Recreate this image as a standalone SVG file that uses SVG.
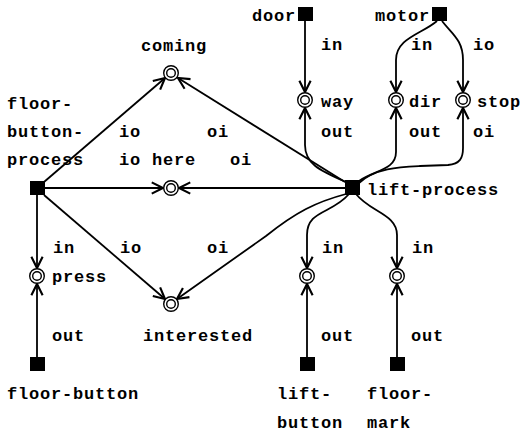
<svg xmlns="http://www.w3.org/2000/svg" width="520" height="432" viewBox="0 0 520 432">
<defs>
<marker id="arr" markerUnits="userSpaceOnUse" markerWidth="20" markerHeight="20" viewBox="-12 -8 14 16" refX="0" refY="0" orient="auto">
<path d="M-9,-4.5 L0,0 L-9,4.5" fill="none" stroke="#000" stroke-width="1.7"/>
</marker>
</defs>
<style>
.t{font-family:"Liberation Mono","DejaVu Sans Mono",monospace;font-size:17px;font-weight:bold;letter-spacing:0.8px;fill:#000}
.c{fill:none;stroke:#000;stroke-width:1.8;marker-end:url(#arr)}
.sq{fill:#000}
.o{fill:#fff;stroke:#000;stroke-width:1.4}
</style>
<rect width="520" height="432" fill="#fff"/>
<g id="connectors">
<path class="c" d="M305,21 L305,92"/>
<path class="c" d="M346,182 C318,170 305,163 305,145 L305,108"/>
<path class="c" d="M437,21 C422,34 396,38 396,60 L396,92"/>
<path class="c" d="M442,21 C452,34 463,40 463,60 L463,92"/>
<path class="c" d="M359,181 C375,170 396,170 396,152 L396,108"/>
<path class="c" d="M359,183 C375,168 400,167 420,166 L448,165 C460,164 463,158 463,148 L463,108"/>
<path class="c" d="M44,182 L165,78"/>
<path class="c" d="M345,182 L178,78"/>
<path class="c" d="M44,188 L163,188"/>
<path class="c" d="M345,188 L179,188"/>
<path class="c" d="M44,195 L165,299"/>
<path class="c" d="M346,194 C316,202 296,212 266,236 L177,299"/>
<path class="c" d="M37,195 L37,268"/>
<path class="c" d="M37,357 L37,284"/>
<path class="c" d="M349,194 C332,214 307,210 307,235 L307,268"/>
<path class="c" d="M356,194 C370,212 397,214 397,235 L397,268"/>
<path class="c" d="M307,357 L307,284"/>
<path class="c" d="M397,357 L397,284"/>
</g>
<g id="door"><rect class="sq" x="298" y="7" width="15" height="14"/><text class="t" x="252" y="21">door</text></g>
<g id="motor"><rect class="sq" x="432" y="7" width="15" height="14"/><text class="t" x="375" y="21">motor</text></g>
<g id="floor-button-process"><rect class="sq" x="30" y="181" width="15" height="14"/><text class="t" x="7" y="109">floor-</text><text class="t" x="7" y="137">button-</text><text class="t" x="7" y="165">process</text></g>
<g id="lift-process"><rect class="sq" x="345" y="180" width="15" height="15"/><text class="t" x="367" y="195">lift-process</text></g>
<g id="floor-button"><rect class="sq" x="30" y="357" width="15" height="14"/><text class="t" x="7" y="399">floor-button</text></g>
<g id="lift-button"><rect class="sq" x="300" y="357" width="15" height="14"/><text class="t" x="277" y="399">lift-</text><text class="t" x="277" y="428">button</text></g>
<g id="floor-mark"><rect class="sq" x="390" y="357" width="15" height="14"/><text class="t" x="367" y="399">floor-</text><text class="t" x="367" y="428">mark</text></g>
<g id="coming"><circle class="o" cx="171" cy="73" r="7.3"/><circle class="o" cx="171" cy="73" r="4.3"/><text class="t" x="141" y="51">coming</text></g>
<g id="here"><circle class="o" cx="171" cy="188" r="7.3"/><circle class="o" cx="171" cy="188" r="4.3"/><text class="t" x="152" y="165">here</text></g>
<g id="interested"><circle class="o" cx="171" cy="304" r="7.3"/><circle class="o" cx="171" cy="304" r="4.3"/><text class="t" x="143" y="341">interested</text></g>
<g id="way"><circle class="o" cx="305" cy="100" r="7.3"/><circle class="o" cx="305" cy="100" r="4.3"/><text class="t" x="321" y="107">way</text></g>
<g id="dir"><circle class="o" cx="396" cy="100" r="7.3"/><circle class="o" cx="396" cy="100" r="4.3"/><text class="t" x="409" y="107">dir</text></g>
<g id="stop"><circle class="o" cx="463" cy="100" r="7.3"/><circle class="o" cx="463" cy="100" r="4.3"/><text class="t" x="477" y="107">stop</text></g>
<g id="press"><circle class="o" cx="37" cy="276" r="7.3"/><circle class="o" cx="37" cy="276" r="4.3"/><text class="t" x="52" y="282">press</text></g>
<g id="lift-button-port"><circle class="o" cx="307" cy="276" r="7.3"/><circle class="o" cx="307" cy="276" r="4.3"/></g>
<g id="floor-mark-port"><circle class="o" cx="397" cy="276" r="7.3"/><circle class="o" cx="397" cy="276" r="4.3"/></g>
<g id="labels">
<text class="t" x="119" y="137">io</text>
<text class="t" x="207" y="137">oi</text>
<text class="t" x="119" y="165">io</text>
<text class="t" x="230" y="165">oi</text>
<text class="t" x="321" y="50">in</text>
<text class="t" x="411" y="50">in</text>
<text class="t" x="473" y="50">io</text>
<text class="t" x="321" y="137">out</text>
<text class="t" x="409" y="137">out</text>
<text class="t" x="473" y="137">oi</text>
<text class="t" x="53" y="253">in</text>
<text class="t" x="120" y="253">io</text>
<text class="t" x="207" y="253">oi</text>
<text class="t" x="52" y="341">out</text>
<text class="t" x="322" y="253">in</text>
<text class="t" x="412" y="253">in</text>
<text class="t" x="321" y="341">out</text>
<text class="t" x="411" y="341">out</text>
</g>
</svg>
